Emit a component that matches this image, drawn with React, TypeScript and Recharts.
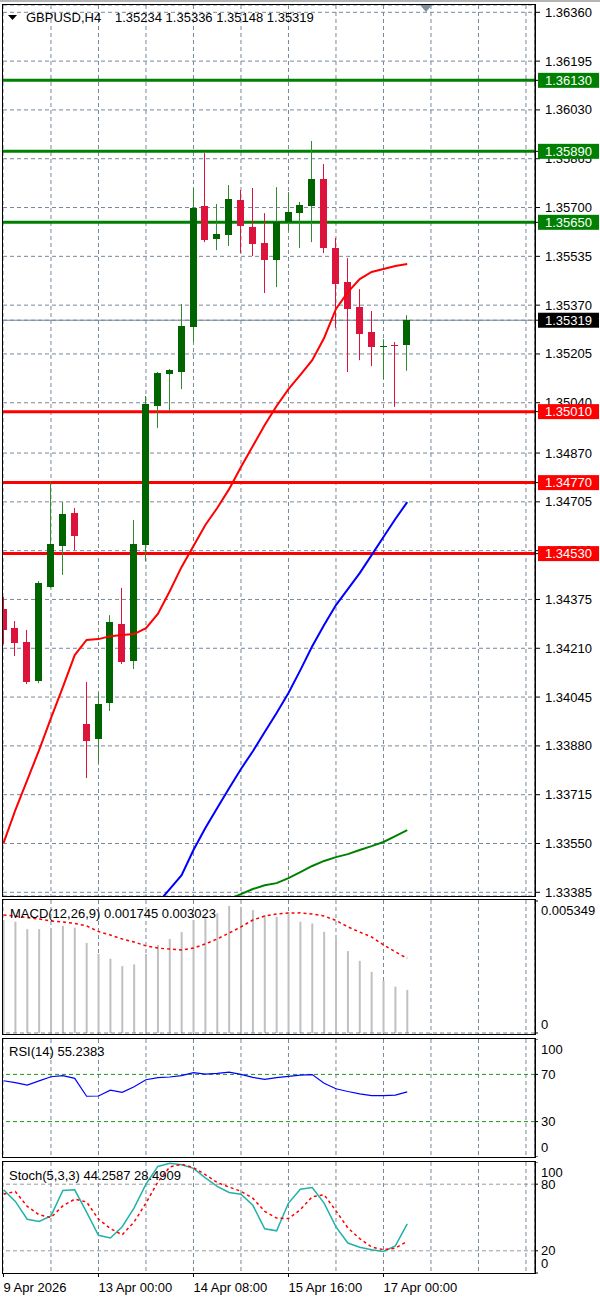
import React from "react";
import { ComposedChart, Bar, Line, XAxis, YAxis, CartesianGrid, ReferenceLine } from "recharts";

const FONT = "'Liberation Sans', Arial, sans-serif";
const GRID = "#778899";
const BULL = "#006400";
const BULL_WICK = "#2E8B2E";
const BEAR = "#DC143C";

// GBPUSD H4 bars, 9 Apr 16:00 .. 17 Apr 04:00
const barOpen = [1.34343, 1.34278, 1.34231, 1.34099, 1.34417, 1.34556, 1.34667, 1.33954, 1.33903, 1.34025, 1.34292, 1.34167, 1.34559, 1.35029, 1.35137, 1.35144, 1.35296, 1.35705, 1.35594, 1.35607, 1.35725, 1.35634, 1.3558, 1.35523, 1.35651, 1.35681, 1.35705, 1.35796, 1.35563, 1.35448, 1.35364, 1.35279, 1.35228, 1.35235, 1.35234];
const barHigh = [1.34383, 1.34302, 1.34272, 1.34437, 1.34772, 1.34704, 1.34684, 1.34096, 1.34059, 1.34322, 1.34414, 1.34644, 1.35063, 1.35144, 1.35154, 1.35374, 1.35766, 1.35884, 1.35712, 1.35776, 1.35759, 1.35766, 1.35681, 1.35769, 1.35752, 1.35719, 1.35925, 1.35847, 1.35597, 1.35529, 1.35424, 1.3535, 1.35255, 1.35245, 1.35336];
const barLow = [1.34224, 1.34184, 1.34089, 1.34092, 1.34414, 1.34458, 1.34542, 1.33771, 1.33822, 1.33998, 1.34157, 1.3414, 1.34505, 1.34955, 1.35012, 1.35086, 1.35245, 1.35583, 1.35556, 1.3557, 1.35546, 1.35536, 1.35411, 1.35431, 1.35621, 1.35563, 1.35583, 1.35546, 1.35293, 1.35144, 1.35184, 1.35164, 1.3512, 1.35026, 1.35148];
const barClose = [1.34272, 1.34228, 1.34096, 1.3443, 1.34562, 1.34664, 1.34589, 1.33896, 1.34021, 1.34299, 1.34163, 1.34562, 1.35036, 1.35141, 1.35151, 1.35299, 1.35698, 1.3559, 1.3561, 1.35729, 1.35637, 1.35577, 1.35523, 1.35651, 1.35685, 1.35709, 1.35796, 1.35563, 1.35441, 1.35357, 1.35272, 1.35228, 1.35232, 1.3523, 1.35319];

// moving averages
const maRed = [1.33551, 1.33663, 1.33764, 1.33866, 1.33974, 1.34079, 1.34187, 1.34238, 1.34241, 1.34251, 1.34255, 1.34258, 1.34278, 1.34326, 1.34403, 1.34485, 1.34556, 1.34627, 1.34684, 1.34748, 1.34823, 1.34894, 1.34965, 1.35029, 1.35086, 1.35134, 1.35184, 1.35259, 1.35357, 1.35414, 1.35458, 1.35482, 1.35492, 1.35502, 1.35509];
const maBlue = [null, null, null, null, null, null, null, null, null, null, null, null, 1.33298, 1.33349, 1.33396, 1.33443, 1.33528, 1.33602, 1.3367, 1.33737, 1.33802, 1.33862, 1.33927, 1.33991, 1.34059, 1.34136, 1.34217, 1.34289, 1.34356, 1.3441, 1.34464, 1.34525, 1.34586, 1.34647, 1.34704];
const maGreen = [null, null, null, null, null, null, null, null, null, null, null, null, null, null, null, null, null, null, 1.33345, 1.33362, 1.33379, 1.33396, 1.33409, 1.33416, 1.33433, 1.33453, 1.33474, 1.33491, 1.33504, 1.33514, 1.33528, 1.33541, 1.33555, 1.33575, 1.33595];

const macdHist = [0.00458, 0.00451, 0.00421, 0.00421, 0.00421, 0.00434, 0.00427, 0.00365, 0.0032, 0.00301, 0.00271, 0.00278, 0.0032, 0.00357, 0.00381, 0.00409, 0.00458, 0.00478, 0.00485, 0.00515, 0.00501, 0.00498, 0.00478, 0.00471, 0.0049, 0.00451, 0.00444, 0.0041, 0.0038, 0.00332, 0.00292, 0.00248, 0.00212, 0.00188, 0.001745];
const macdSignal = [0.00478, 0.00474, 0.00468, 0.00462, 0.00454, 0.0045, 0.00444, 0.00434, 0.00411, 0.00397, 0.00381, 0.00369, 0.00353, 0.00344, 0.0034, 0.00336, 0.00344, 0.00361, 0.00381, 0.00405, 0.0043, 0.00458, 0.00474, 0.00482, 0.00486, 0.00487, 0.00482, 0.00474, 0.00456, 0.0043, 0.00409, 0.00389, 0.00357, 0.00329, 0.003023];
const rsiValues = [64.6, 63, 61, 64.5, 68, 68.9, 66.7, 51.5, 51.7, 56.7, 54.8, 59.6, 65.5, 67.3, 67.8, 69, 71.5, 70.2, 70.9, 72, 70, 67.5, 65.8, 67.2, 68.4, 69.4, 69.8, 62.5, 57.8, 55.5, 53.5, 52, 52, 52.4, 55.24];
const stochK = [75, 64.5, 48.4, 46.4, 51.5, 74.3, 74.9, 54.8, 34, 31.5, 41.7, 58.6, 80, 96, 98.8, 97.5, 94.3, 85.7, 78, 72.6, 71, 61, 39.8, 38, 63, 75.5, 77, 63, 41.5, 27, 23.2, 21, 19.4, 24.5, 44.26];
const stochD = [71, 73.4, 60, 52.4, 50, 60.5, 66.5, 64, 48.5, 40, 34.4, 46, 63, 82, 95.5, 98, 95, 88.6, 81.5, 77.4, 73.6, 67.4, 55.5, 49.5, 49, 57, 68.8, 70.5, 56, 40.6, 31, 23.5, 20.9, 22.4, 28.49];

const priceTicks = [1.3636, 1.36195, 1.3603, 1.35865, 1.357, 1.35535, 1.3537, 1.35205, 1.3504, 1.3487, 1.34705, 1.3454, 1.34375, 1.3421, 1.34045, 1.3388, 1.33715, 1.3355, 1.33385];
const resistance = [1.3613, 1.3589, 1.3565];
const support = [1.3501, 1.3477, 1.3453];
const bidPrice = 1.35319;

const gridTicks = [4, 8, 12, 16, 20, 24, 28, 32, 36, 40, 44];
const dateTicks = [0, 8, 16, 24, 32];
const dateLabels = ["9 Apr 2026", "13 Apr 00:00", "14 Apr 08:00", "15 Apr 16:00", "17 Apr 00:00"];

const X_DOMAIN = [-0.04, 44.76];

const rows = barOpen.map((o, i) => ({
  i,
  open: o,
  high: barHigh[i],
  low: barLow[i],
  close: barClose[i],
  maRed: maRed[i],
  maBlue: maBlue[i],
  maGreen: maGreen[i],
  macd: macdHist[i],
  signal: macdSignal[i],
  rsi: rsiValues[i],
  k: stochK[i],
  d: stochD[i],
}));

const Candle = (props: any) => {
  const { x, y, width, height, payload } = props;
  const { open, high, low, close } = payload;
  const top = Math.min(y, y + height);
  const h = Math.abs(height);
  const k = high === low ? 0 : h / (high - low);
  const yO = top + (high - open) * k;
  const yC = top + (high - close) * k;
  const up = close >= open;
  const bx = Math.round(x);
  const cx = bx + 3.5;
  const bTop = Math.round(Math.min(yO, yC));
  const bH = Math.max(Math.round(Math.abs(yO - yC)), 1);
  return (
    <g>
      <line x1={cx} x2={cx} y1={top} y2={top + h} stroke={up ? BULL_WICK : BEAR} strokeWidth={1} />
      <rect x={bx} y={bTop} width={width} height={bH} fill={up ? BULL : BEAR} />
    </g>
  );
};

const boxColor = (v: number) => {
  if (resistance.includes(v)) return "#008000";
  if (support.includes(v)) return "#FF0000";
  if (v === bidPrice) return "#000000";
  return null;
};

const PriceTick = (props: any) => {
  const { x, y, payload } = props;
  const v = payload.value;
  const c = boxColor(v);
  const txt = (
    <text x={x} y={y} dy={4.5} textAnchor="start" fontSize={13} fontFamily={FONT} fill={c ? "#fff" : "#000"}>
      {v.toFixed(5)}
    </text>
  );
  if (!c) return txt;
  return (
    <g>
      <rect x={x - 7} y={y - 7.5} width={61} height={15} fill={c} />
      {txt}
    </g>
  );
};

const sideTick = (h: number, fmt: (v: number) => string) => (props: any) => {
  const { x, y, payload } = props;
  const yy = Math.min(Math.max(y, 10), h - 10);
  return (
    <text x={x} y={yy} dy={4.5} textAnchor="start" fontSize={13} fontFamily={FONT} fill="#000">
      {fmt(payload.value)}
    </text>
  );
};

const STOCH_H = 111;

// date labels sit just under the stochastic panel
const DateTick = (props: any) => {
  const { x, payload } = props;
  const idx = dateTicks.indexOf(payload.value);
  return (
    <g>
      <line x1={x} x2={x} y1={STOCH_H} y2={STOCH_H + 4} stroke="#000" />
      <text x={x} y={STOCH_H + 18.5} textAnchor="start" fontSize={13} fontFamily={FONT} fill="#000">
        {dateLabels[idx]}
      </text>
    </g>
  );
};

const MARGIN = { top: 0, right: 0, bottom: 0, left: 3 };

const gridX = (
  <XAxis type="number" dataKey="i" domain={X_DOMAIN} ticks={gridTicks} allowDataOverflow hide />
);

const MACD_H = 134;
const RSI_H = 118;

export default function App() {
  return (
    <div style={{ position: "absolute", left: 0, top: 0, width: 600, height: 1298, background: "#fff", overflow: "hidden" }}>
      {/* price panel */}
      <div style={{ position: "absolute", left: 0, top: 0 }}>
        <ComposedChart width={600} height={902} data={rows} margin={{ top: 5, right: 0, bottom: 6, left: 3 }}>
          <CartesianGrid stroke={GRID} strokeDasharray="4 3" />
          {gridX}
          <YAxis
            orientation="right"
            type="number"
            domain={[1.333725, 1.363847]}
            allowDataOverflow
            ticks={[...priceTicks, bidPrice, ...resistance, ...support]}
            interval={0}
            width={65}
            tickSize={5}
            tickMargin={5}
            axisLine={{ stroke: "#000" }}
            tickLine={{ stroke: "#000" }}
            tick={(p: any) => <PriceTick {...p} />}
          />
          <ReferenceLine y={bidPrice} stroke={GRID} strokeWidth={1} zIndex={250} />
          {resistance.map((v) => (
            <ReferenceLine key={v} y={v} stroke="#008000" strokeWidth={3} zIndex={250} />
          ))}
          {support.map((v) => (
            <ReferenceLine key={v} y={v} stroke="#FF0000" strokeWidth={3} zIndex={250} />
          ))}
          <Bar dataKey={(d: any) => [d.low, d.high]} barSize={7} shape={(p: any) => <Candle {...p} />} isAnimationActive={false} />
          <Line dataKey="maGreen" stroke="#008000" strokeWidth={2} dot={false} isAnimationActive={false} />
          <Line dataKey="maBlue" stroke="#0000FF" strokeWidth={2} dot={false} isAnimationActive={false} />
          <Line dataKey="maRed" stroke="#FF0000" strokeWidth={2} dot={false} isAnimationActive={false} />
        </ComposedChart>
      </div>

      {/* MACD */}
      <div style={{ position: "absolute", left: 0, top: 900 }}>
        <ComposedChart width={600} height={MACD_H} data={rows} margin={MARGIN}>
          <CartesianGrid stroke={GRID} strokeDasharray="4 3" horizontal={false} />
          {gridX}
          <YAxis
            orientation="right"
            type="number"
            domain={[-0.0000405, 0.0053895]}
            allowDataOverflow
            ticks={[0, 0.005349]}
            interval={0}
            width={65}
            tickSize={3}
            tickMargin={3}
            axisLine={{ stroke: "#000" }}
            tickLine={{ stroke: "#000" }}
            tick={sideTick(MACD_H, (v) => (v === 0 ? "0" : v.toFixed(6)))}
          />
          <ReferenceLine y={0} stroke={GRID} strokeDasharray="4 3" />
          <Bar dataKey="macd" barSize={2} fill="#C0C0C0" isAnimationActive={false} />
          <Line dataKey="signal" stroke="#FF0000" strokeWidth={1.5} strokeDasharray="3 3" dot={false} isAnimationActive={false} />
        </ComposedChart>
      </div>

      {/* RSI */}
      <div style={{ position: "absolute", left: 0, top: 1039 }}>
        <ComposedChart width={600} height={RSI_H} data={rows} margin={MARGIN}>
          <CartesianGrid stroke={GRID} strokeDasharray="4 3" horizontal={false} />
          {gridX}
          <YAxis
            orientation="right"
            type="number"
            domain={[0, 100]}
            allowDataOverflow
            ticks={[0, 30, 70, 100]}
            interval={0}
            width={65}
            tickSize={3}
            tickMargin={3}
            axisLine={{ stroke: "#000" }}
            tickLine={{ stroke: "#000" }}
            tick={sideTick(RSI_H, (v) => String(v))}
          />
          <ReferenceLine y={70} stroke="#1A9A1A" strokeDasharray="4 3" />
          <ReferenceLine y={30} stroke="#1A9A1A" strokeDasharray="4 3" />
          <Line dataKey="rsi" stroke="#0000FF" strokeWidth={1.2} dot={false} isAnimationActive={false} />
        </ComposedChart>
      </div>

      {/* Stochastic */}
      <div style={{ position: "absolute", left: 0, top: 1162 }}>
        <ComposedChart width={600} height={STOCH_H + 26} data={rows} margin={MARGIN}>
          <CartesianGrid stroke={GRID} strokeDasharray="4 3" horizontal={false} />
          <XAxis
            xAxisId="dates"
            type="number"
            dataKey="i"
            domain={X_DOMAIN}
            allowDataOverflow
            ticks={dateTicks}
            interval={0}
            height={26}
            axisLine={false}
            tickLine={false}
            tick={(p: any) => <DateTick {...p} />}
          />
          {gridX}
          <YAxis
            orientation="right"
            type="number"
            domain={[0, 100]}
            allowDataOverflow
            ticks={[0, 20, 80, 100]}
            interval={0}
            width={65}
            tickSize={3}
            tickMargin={3}
            axisLine={{ stroke: "#000" }}
            tickLine={{ stroke: "#000" }}
            tick={sideTick(STOCH_H, (v) => String(v))}
          />
          <ReferenceLine y={80} stroke="#9A9A9A" strokeDasharray="4 3" />
          <ReferenceLine y={20} stroke="#9A9A9A" strokeDasharray="4 3" />
          <Line dataKey="k" stroke="#20B2AA" strokeWidth={1.5} dot={false} isAnimationActive={false} />
          <Line dataKey="d" stroke="#FF0000" strokeWidth={1.5} strokeDasharray="3 3" dot={false} isAnimationActive={false} />
        </ComposedChart>
      </div>

      {/* frames and labels */}
      <svg width={600} height={1298} style={{ position: "absolute", left: 0, top: 0, pointerEvents: "none" }}>
        <rect x={0} y={0} width={600} height={2} fill="#B4B4B4" />
        <rect x={2.5} y={4.5} width={533} height={892} fill="none" stroke="#000" />
        <rect x={2.5} y={899.5} width={533} height={135} fill="none" stroke="#000" />
        <rect x={2.5} y={1038.5} width={533} height={119} fill="none" stroke="#000" />
        <rect x={2.5} y={1161.5} width={533} height={112} fill="none" stroke="#000" />
        <polygon points="420,5 432,5 426,12" fill="#7F8FA0" />
        <polygon points="8,15 17,15 12.5,20" fill="#000" />
        <g fontFamily={FONT} fontSize={13} fill="#000">
          <text x={26} y={22}>GBPUSD,H4</text>
          <text x={115} y={22}>1.35234 1.35336 1.35148 1.35319</text>
          <text x={10} y={917.5}>MACD(12,26,9) 0.001745 0.003023</text>
          <text x={9} y={1056}>RSI(14) 55.2383</text>
          <text x={9} y={1180}>Stoch(5,3,3) 44.2587 28.4909</text>
        </g>
      </svg>
    </div>
  );
}
